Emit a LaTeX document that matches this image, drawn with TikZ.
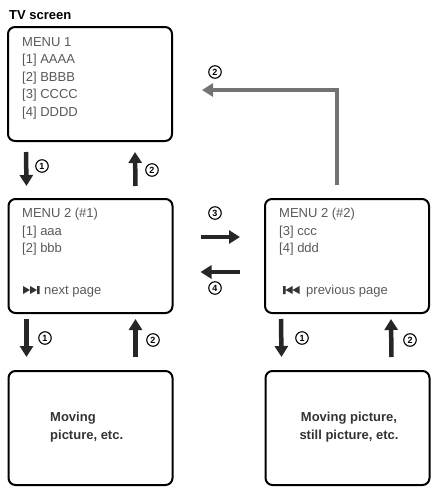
\documentclass[tikz,border=0pt]{standalone}
\usepackage{fontspec}
\setmainfont{Liberation Sans}
\usetikzlibrary{positioning,arrows.meta,calc}

\begin{document}
\begin{tikzpicture}[x=1pt, y=-1pt,
  screen/.style={draw, rounded corners=7pt, line width=2pt, minimum width=164pt, minimum height=114pt},
  menutxt/.style={anchor=north west, inner sep=0pt, align=left, text=black!65, font=\fontsize{13}{17.5}\selectfont},
  pictxt/.style={inner sep=0pt, text=black!80, font=\fontsize{13}{18}\selectfont\bfseries},
  arr/.style={-{Triangle[length=11pt, width=13pt]}, line width=4.5pt, black!85},
  back/.style={-{Triangle[length=11pt, width=13pt]}, line width=4.5pt, black!55},
  num/.style={circle, draw, line width=1.1pt, minimum size=12.5pt, inner sep=0pt, font=\fontsize{9}{9}\selectfont\bfseries},
  icon/.style={fill=black!80},
]
  \useasboundingbox (0,0) rectangle (434,490);

  \node[anchor=west, inner sep=0pt, font=\fontsize{13}{13}\selectfont\bfseries] (TV) at (9,15) {TV screen};

  % screens
  \node[screen] (M1)  at (90,84)    {};
  \node[screen] (M2a) at (90.5,256) {};
  \node[screen] (M2b) at (347,256)  {};
  \node[screen] (P1)  at (90.5,428) {};
  \node[screen] (P2)  at (347.5,428) {};

  \node[menutxt] (M1t)  at (22,37)  {MENU 1\\{[1]} AAAA\\{[2]} BBBB\\{[3]} CCCC\\{[4]} DDDD};
  \node[menutxt] (M2at) at (22,208) {MENU 2 (\#1)\\{[1]} aaa\\{[2]} bbb};
  \node[menutxt] (M2bt) at (279,208) {MENU 2 (\#2)\\{[3]} ccc\\{[4]} ddd};

  % page keys
  \node[menutxt, anchor=base west] (NX) at (44,294.5) {next page};
  \node[menutxt, anchor=base west] (PV) at (306,294.5) {previous page};
  \fill[icon] (23,286) -- (30,290) -- (23,294) -- cycle
              (30,286) -- (37,290) -- (30,294) -- cycle
              (37,286) rectangle (39.5,294);
  \fill[icon] (283,286) rectangle (285.5,294)
              (292.5,286) -- (285.5,290) -- (292.5,294) -- cycle
              (299.5,286) -- (292.5,290) -- (299.5,294) -- cycle;

  \node[pictxt, anchor=west, align=left] (P1t) at (50,427) {Moving\\picture, etc.};
  \node[pictxt, align=center] (P2t) at (349,427) {Moving picture,\\still picture, etc.};

  % up / down
  \draw[arr] ($(M1.south west)+(19,10)$) -- ($(M2a.north west)+(19,-12)$);
  \draw[arr] ($(M2a.north west)+(128,-12)$) -- ($(M1.south west)+(128,10)$);
  \draw[arr] ($(M2a.south west)+(19,5)$) -- ($(P1.north west)+(19,-13)$);
  \draw[arr] ($(P1.north west)+(128,-13)$) -- ($(M2a.south west)+(128,5)$);
  \draw[arr] ($(M2b.south west)+(17,5)$) -- ($(P2.north west)+(17,-13)$);
  \draw[arr] ($(P2.north west)+(127,-13)$) -- ($(M2b.south west)+(127,5)$);

  % page left / right
  \draw[arr] ($(M2a.east)+(27,-19)$) -- ($(M2b.west)+(-24,-19)$);
  \draw[arr] ($(M2b.west)+(-24,16)$) -- ($(M2a.east)+(27,16)$);

  % back to menu 1
  \draw[back] ($(M2b.north)+(-10,-13)$) |- ($(M1.east)+(29,6)$);

  \node[num] (n1) at (42,166)  {1};
  \node[num] (n2) at (152,170) {2};
  \node[num] (n3) at (45,338)  {1};
  \node[num] (n4) at (153,340) {2};
  \node[num] (n5) at (302,338) {1};
  \node[num] (n6) at (410,340) {2};
  \node[num] (n7) at (215,213) {3};
  \node[num] (n8) at (215,288) {4};
  \node[num] (n9) at (215,72)  {2};
\end{tikzpicture}
\end{document}
